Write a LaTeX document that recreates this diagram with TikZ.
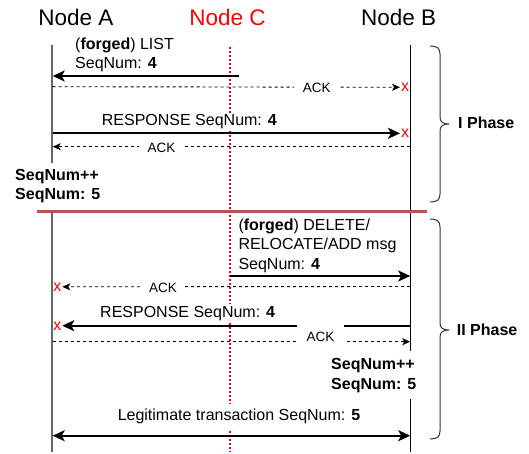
\documentclass[tikz,border=0pt]{standalone}
\usepackage{fontspec}
\setmainfont{Liberation Sans}
\usetikzlibrary{arrows.meta}
\definecolor{sepred}{HTML}{B85450}
\definecolor{lifegray}{HTML}{666666}
\definecolor{xred}{HTML}{FF0000}
\begin{document}
\begin{tikzpicture}[x=1pt,y=-1pt,
  title/.style={font=\fontsize{22.5}{27}\selectfont, anchor=base, inner sep=0},
  lbl/.style={font=\fontsize{16}{19.5}\selectfont, align=left, anchor=north west, inner sep=0},
  one/.style={font=\fontsize{16}{19.5}\selectfont, inner sep=0},
  acklbl/.style={font=\fontsize{13.5}{16}\selectfont, fill=white, anchor=base, inner xsep=8.5pt, inner ysep=2pt},
  lifeA/.style={draw=lifegray, line width=2pt},
  lifeB/.style={draw=black, line width=1pt},
  lifeC/.style={draw=xred, line width=1.5pt, dash pattern=on 2pt off 2pt},
  msg/.style={draw=black, line width=2pt, -{Stealth[length=12pt,width=11pt,inset=3pt]}},
  dblmsg/.style={draw=black, line width=2pt, {Stealth[length=12pt,width=11pt,inset=3pt]}-{Stealth[length=12pt,width=11pt,inset=3pt]}},
  ackmsg/.style={draw=black, line width=0.9pt, dash pattern=on 3pt off 3pt, -{Stealth[length=8pt,width=7pt,inset=2pt]}},
  lost/.style={text=xred, font=\fontsize{16}{19.5}\selectfont, inner sep=0, outer sep=1pt},
  brace/.style={draw=black!80, line width=1pt},
]
\useasboundingbox (0,0) rectangle (529,454);

% titles
\node[title] (tA) at (76,25.7) {Node A};
\node[title, text=xred] (tC) at (227.5,25.7) {Node C};
\node[title] (tB) at (398.7,25.5) {Node B};

% lifelines
\coordinate (Atop) at (51.7,45);   \coordinate (Abot) at (51.7,452);
\coordinate (Btop) at (410.7,45);  \coordinate (Bbot) at (410.7,452);
\coordinate (Ctop) at (230,46.7);  \coordinate (Cbot) at (230,452);
\draw[lifeA] (Atop) -- (Abot);
\draw[lifeB] (Btop) -- (Bbot);
\draw[lifeC] (Ctop) -- (Cbot);

% separator
\coordinate (s1) at (37.3,211); \coordinate (s2) at (427,211);
\draw[line width=3pt, sepred] (s1) -- (s2);

% braces
\draw[brace] (430,46) .. controls (437,46) and (440,48) .. (440,54) -- (440,117)
  .. controls (440,122) and (443,124) .. (449,124)
  .. controls (443,124) and (440,126) .. (440,131) -- (440,194)
  .. controls (440,200) and (437,202) .. (430,202);
\draw[brace] (430,219) .. controls (437,219) and (440,221) .. (440,227) -- (440,323)
  .. controls (440,328) and (443,330) .. (449,330)
  .. controls (443,330) and (440,332) .. (440,337) -- (440,431)
  .. controls (440,437) and (437,439) .. (430,439);
\node[one, anchor=base west, font=\fontsize{16}{19.5}\selectfont\bfseries] (ph1) at (458,129) {I Phase};
\node[one, anchor=base west, font=\fontsize{16}{19.5}\selectfont\bfseries] (ph2) at (456.7,335) {II Phase};

% ---- Phase I ----
\node[lbl] (list) at (75,35.35) {\strut(\textbf{forged}) LIST\\\strut SeqNum: \textbf{4}};
\coordinate (m1s) at (239,76); \coordinate (m1e) at (52.7,76);
\draw[msg] (m1s) -- (m1e);

\node[lost] (x1) at (405,87.3) {x};
\coordinate (a1s) at (52.7,86.7);
\draw[ackmsg] (a1s) -- (x1);
\node[acklbl] (ack1) at (316.7,92.3) {ACK};

\node[lost] (x2) at (405,133.5) {x};
\coordinate (r1s) at (52.7,133.3);
\draw[msg] (r1s) -- (r1s -| x2.west);
\node[one, anchor=base west, fill=white, inner xsep=0pt, inner ysep=2pt] (resp1) at (101.7,126) {RESPONSE SeqNum: \textbf{4}};

\coordinate (a2s) at (410.2,146.7); \coordinate (a2e) at (52.7,146.7);
\draw[ackmsg] (a2s) -- (a2e);
\node[acklbl] (ack2) at (161.5,152.3) {ACK};

\node[lbl, fill=white, inner xsep=2pt, inner ysep=4pt, font=\fontsize{16}{19.5}\selectfont\bfseries] (seqA) at (13,162.35) {\strut SeqNum++\\\strut SeqNum: 5};

% ---- Phase II ----
\node[lbl] (del) at (238.3,216.35) {\strut(\textbf{forged}) DELETE/\\\strut RELOCATE/ADD msg\\\strut SeqNum: \textbf{4}};
\coordinate (m2s) at (230,276); \coordinate (m2e) at (410.2,276);
\draw[msg] (m2s) -- (m2e);

\node[lost] (x3) at (57.3,286.8) {x};
\coordinate (a3s) at (410.2,286.5);
\draw[ackmsg] (a3s) -- (x3);
\node[acklbl] (ack3) at (163,292.3) {ACK};

\node[lost] (x4) at (57.3,326.3) {x};
\coordinate (r2s) at (410.2,325.7);
\draw[msg] (r2s) -- (r2s -| x4.east);
\node[one, anchor=base west, fill=white, inner xsep=0pt, inner ysep=2pt] (resp2) at (100,317) {RESPONSE SeqNum: \textbf{4}};

\coordinate (a4s) at (52.7,341.7); \coordinate (a4e) at (410.2,341.7);
\draw[ackmsg] (a4s) -- (a4e);
\node[font=\fontsize{13.5}{16}\selectfont, fill=white, anchor=base, inner sep=0pt, minimum width=47pt, text height=17.5pt, text depth=3pt] (ack4) at (320.5,341.7) {ACK};

\node[lbl, fill=white, inner xsep=2pt, inner ysep=4pt, font=\fontsize{16}{20}\selectfont\bfseries] (seqB) at (329,351) {\strut SeqNum++\\\strut SeqNum: 5};

\coordinate (l1) at (52.7,435.7); \coordinate (l2) at (410.2,435.7);
\draw[dblmsg] (l1) -- (l2);
\node[one, anchor=base, fill=white, inner xsep=2pt, inner ysep=5pt] (legit) at (239,420.7) {Legitimate transaction SeqNum: \textbf{5}};
\end{tikzpicture}
\end{document}
